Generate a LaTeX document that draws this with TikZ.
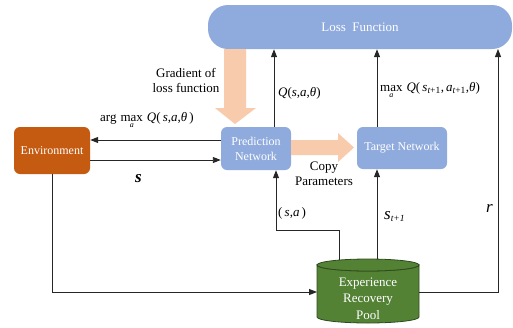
\documentclass[tikz,border=0pt]{standalone}
\usepackage{fontspec}
\setmainfont{Liberation Serif}
\usetikzlibrary{arrows.meta,calc}
\definecolor{boxblue}{HTML}{8FAADC}
\definecolor{envorange}{HTML}{C55A11}
\definecolor{poolgreen}{HTML}{548235}
\definecolor{pooledge}{HTML}{2F4A1D}
\definecolor{peach}{HTML}{F8CBAD}
\newcommand{\iv}[1]{\mbox{\itshape #1}}
\newcommand{\undera}[1]{\mathop{\mbox{#1}}\limits_{\mbox{\fontsize{8}{8}\selectfont\itshape a}}}
\newcommand{\subs}[1]{\textsubscript{\fontsize{9.5}{9.5}\selectfont #1}}
\begin{document}
\begin{tikzpicture}[x=1pt,y=-1pt,
  box/.style={draw=none,fill=boxblue,rounded corners=6pt,text=white,
    font=\fontsize{12}{15}\selectfont,align=center,inner sep=0pt},
  conn/.style={draw=black!85,line width=0.9pt,-{Triangle[length=8pt,width=6pt]}},
  lbl/.style={font=\fontsize{13}{15}\selectfont,align=center,inner sep=0pt},
  mlbl/.style={font=\fontsize{13}{15}\selectfont,inner sep=0pt},
  blbl/.style={font=\fontsize{17}{17}\selectfont\itshape,inner sep=0pt}]
\useasboundingbox (0,0) rectangle (513,327);

% nodes
\node[box,rounded corners=20pt,minimum width=304pt,minimum height=44pt,
  font=\fontsize{13}{15}\selectfont] (loss) at (360,27) {Loss\ \ Function};
\node[box,fill=envorange,minimum width=76pt,minimum height=47pt] (env) at (52,150.5) {Environment};
\node[box,minimum width=70pt,minimum height=43pt] (pred) at (256,148.5) {Prediction\\Network};
\node[box,minimum width=90pt,minimum height=42pt] (target) at (402,148) {Target Network};

% pool cylinder
\fill[poolgreen,draw=pooledge,line width=0.8pt]
  (317,265) -- (317,317) arc[start angle=180,end angle=360,x radius=51pt,y radius=6pt]
  -- (419,265) arc[start angle=0,end angle=180,x radius=51pt,y radius=-6pt] -- cycle;
\draw[pooledge,line width=0.8pt,fill=poolgreen] (368,265) ellipse[x radius=51pt,y radius=6pt];
\node[inner sep=0pt,minimum width=102pt,minimum height=52pt,text=white,align=center,
  font=\fontsize{13}{16.5}\selectfont] (pool) at (368,298.5) {Experience\\Recovery\\Pool};
\coordinate (pooltopA) at (339,260.3);
\coordinate (pooltopB) at (377,259.2);
\coordinate (poolleft) at (317,292);
\coordinate (poolright) at (419,292);

% peach arrows
\fill[peach] (224,49) -- (246,49) -- (246,108) -- (256,108) -- (235,124) -- (215,108) -- (224,108) -- cycle;
\fill[peach] (291,140) -- (338,140) -- (338,133) -- (354,147.5) -- (338,162) -- (338,155) -- (291,155) -- cycle;

% black connectors
\draw[conn] ([yshift=8.5pt]pred.west) -- ([yshift=8.5pt]pred.west -| env.east);
\draw[conn] ([yshift=-11.5pt]pred.west -| env.east) -- ([yshift=-11.5pt]pred.west);
\draw[conn] ([xshift=18pt]pred.north) -- ([xshift=18pt]pred.north |- loss.south);
\draw[conn] ([xshift=-25pt]target.north) -- ([xshift=-25pt]target.north |- loss.south);
\draw[conn] (pooltopB) -- (pooltopB |- target.south);
\draw[conn] (pooltopA) -- (339,230) -- ([xshift=20pt]pred.south |- 0,230) -- ([xshift=20pt]pred.south);
\draw[conn] (env.south) -- (env.south |- poolleft) -- (poolleft);
\draw[conn] (poolright) -- (498,292) -- (498,49);

% labels
\node[lbl] (grad) at (186,80.5) {Gradient of\\loss function};
\node[mlbl,anchor=base west] (argq) at (100,121) {$\mbox{arg}\,\undera{max}\,\mbox{\iv{Q}(\,\iv{s},\iv{a},\iv{θ}\,)}$};
\node[blbl,font=\fontsize{17}{17}\selectfont\bfseries\itshape] (slbl) at (138.5,179) {s};
\node[mlbl,anchor=base west] (qlbl) at (278,96) {\iv{Q}(\iv{s},\iv{a},\iv{θ})};
\node[mlbl,anchor=base west] (maxq) at (380,91) {$\undera{max}\,\mbox{\iv{Q}(\,\iv{s}\subs{\iv{t}+1},\,\iv{a}\subs{\iv{t}+1},\iv{θ})}$};
\node[lbl] (copy) at (324,173.5) {Copy\\Parameters};
\node[mlbl,anchor=base west] (salbl) at (278,216.5) {(\,\iv{s},\iv{a}\,)};
\node[blbl,anchor=base west] (st1) at (384,219) {s\subs{\iv{t}+1}};
\node[blbl] (rlbl) at (489.5,208) {r};
\end{tikzpicture}
\end{document}
